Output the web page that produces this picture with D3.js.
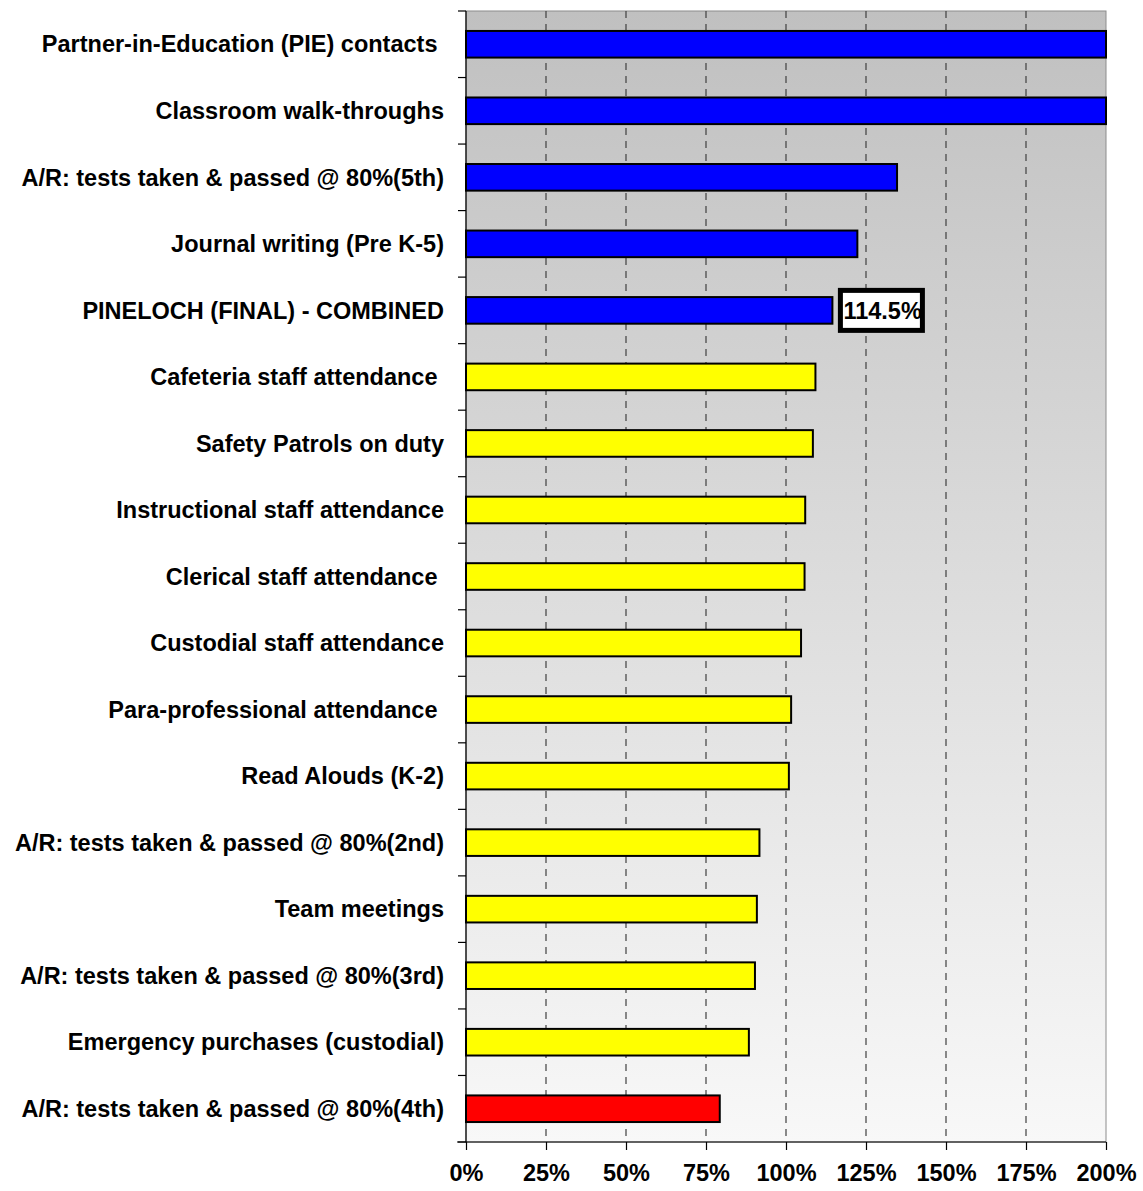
<!DOCTYPE html>
<html>
<head>
<meta charset="utf-8">
<script src="https://cdn.jsdelivr.net/npm/d3@7"></script>
<style>
  body { margin: 0; background: #fff; }
  text { font-family: "Liberation Sans", Arial, sans-serif; font-weight: bold; }
</style>
</head>
<body>
<div id="chart"></div>
<script>
const WIDTH = 1143;
const HEIGHT = 1191;
const MARGIN = { top: 11, right: 37, bottom: 49, left: 466 };
const FONT_SIZE = 23.5;

// Categories, top to bottom (trailing spaces are in the original labels)
const categories = [
    "Partner-in-Education (PIE) contacts ",
    "Classroom walk-throughs",
    "A/R: tests taken & passed @ 80%(5th)",
    "Journal writing (Pre K-5)",
    "PINELOCH (FINAL) - COMBINED",
    "Cafeteria staff attendance ",
    "Safety Patrols on duty",
    "Instructional staff attendance",
    "Clerical staff attendance ",
    "Custodial staff attendance",
    "Para-professional attendance ",
    "Read Alouds (K-2)",
    "A/R: tests taken & passed @ 80%(2nd)",
    "Team meetings",
    "A/R: tests taken & passed @ 80%(3rd)",
    "Emergency purchases (custodial)",
    "A/R: tests taken & passed @ 80%(4th)"
];

// Percent of goal
const values = [200, 200, 134.7, 122.3, 114.5, 109.2, 108.4, 106.0, 105.8,
                104.7, 101.6, 100.9, 91.7, 90.9, 90.3, 88.4, 79.3];

const xTicks = [0, 25, 50, 75, 100, 125, 150, 175, 200];
const combinedLabel = "114.5%";
const combinedIndex = 4;

const innerW = WIDTH - MARGIN.left - MARGIN.right;
const innerH = HEIGHT - MARGIN.top - MARGIN.bottom;

const svg = d3.select("#chart")
    .append("svg")
    .attr("width", WIDTH)
    .attr("height", HEIGHT);

const defs = svg.append("defs");
const grad = defs.append("linearGradient")
    .attr("id", "bg")
    .attr("x1", 0).attr("y1", 0).attr("x2", 0).attr("y2", 1);
grad.append("stop").attr("offset", "0%").attr("stop-color", "#c0c0c0");
grad.append("stop").attr("offset", "100%").attr("stop-color", "#f8f8f8");

const g = svg.append("g")
    .attr("transform", "translate(" + MARGIN.left + "," + MARGIN.top + ")");

const x = d3.scaleLinear().domain([0, 200]).range([0, innerW]);
const y = d3.scaleBand().domain(d3.range(categories.length)).range([0, innerH]).paddingInner(0.6).paddingOuter(0.3);
const yEdge = d3.scaleLinear().domain([0, categories.length]).range([0, innerH]);

// below 80% red, up to the combined score yellow, at or above it blue
const color = d3.scaleThreshold().domain([80, values[combinedIndex]]).range(["#ff0000", "#ffff00", "#0000ff"]);

// plot area background
g.append("rect")
    .attr("width", innerW)
    .attr("height", innerH)
    .attr("fill", "url(#bg)")
    .attr("stroke", "#8c8c8c")
    .attr("stroke-width", 1);

// dashed gridlines
g.selectAll(".grid")
    .data(xTicks.slice(1, -1))
    .enter()
    .append("line")
    .attr("x1", d => x(d)).attr("x2", d => x(d))
    .attr("y1", 0).attr("y2", innerH)
    .attr("stroke", "#404040")
    .attr("stroke-width", 1.2)
    .attr("stroke-dasharray", "7,6");

// bars
g.selectAll(".bar")
    .data(values)
    .enter()
    .append("rect")
    .attr("x", 0)
    .attr("y", (d, i) => y(i))
    .attr("width", d => x(Math.min(d, 200)))
    .attr("height", y.bandwidth())
    .attr("fill", d => color(d))
    .attr("stroke", "#000")
    .attr("stroke-width", 2);

// left axis with ticks at category boundaries
g.append("line")
    .attr("x1", 0).attr("x2", 0).attr("y1", 0).attr("y2", innerH)
    .attr("stroke", "#000").attr("stroke-width", 1.2);
g.selectAll(".ytick")
    .data(d3.range(categories.length + 1))
    .enter()
    .append("line")
    .attr("x1", -8).attr("x2", 0)
    .attr("y1", d => yEdge(d)).attr("y2", d => yEdge(d))
    .attr("stroke", "#000").attr("stroke-width", 1.2);

g.selectAll(".ylabel")
    .data(categories)
    .enter()
    .append("text")
    .attr("x", -22)
    .attr("y", (d, i) => y(i) + y.bandwidth() / 2)
    .attr("dy", "0.35em")
    .attr("text-anchor", "end")
    .attr("font-size", FONT_SIZE)
    .style("white-space", "pre")
    .text(d => d);

// bottom axis
const xAxis = d3.axisBottom(x)
    .tickValues(xTicks)
    .tickFormat(d => d + "%")
    .tickSize(8)
    .tickPadding(14);

const ax = g.append("g")
    .attr("transform", "translate(0," + innerH + ")")
    .call(xAxis);
ax.select(".domain").remove();
ax.append("line")
    .attr("x1", -9).attr("x2", innerW)
    .attr("stroke", "#000").attr("stroke-width", 1.2);
ax.selectAll(".tick line").attr("stroke", "#000").attr("stroke-width", 1.2);
ax.selectAll(".tick text")
    .attr("font-size", FONT_SIZE)
    .attr("font-family", "Liberation Sans, Arial, sans-serif")
    .attr("font-weight", "bold")
    .attr("fill", "#000");

// data label for the combined score
const lblX = x(values[combinedIndex]) + 8;
const lblY = y(combinedIndex) + y.bandwidth() / 2;
g.append("rect")
    .attr("x", lblX)
    .attr("y", lblY - 20)
    .attr("width", 82)
    .attr("height", 40)
    .attr("fill", "#fff")
    .attr("stroke", "#000")
    .attr("stroke-width", 5);
g.append("text")
    .attr("x", lblX + 3)
    .attr("y", lblY)
    .attr("dy", "0.35em")
    .attr("font-size", FONT_SIZE)
    .text(combinedLabel);
</script>
</body>
</html>
